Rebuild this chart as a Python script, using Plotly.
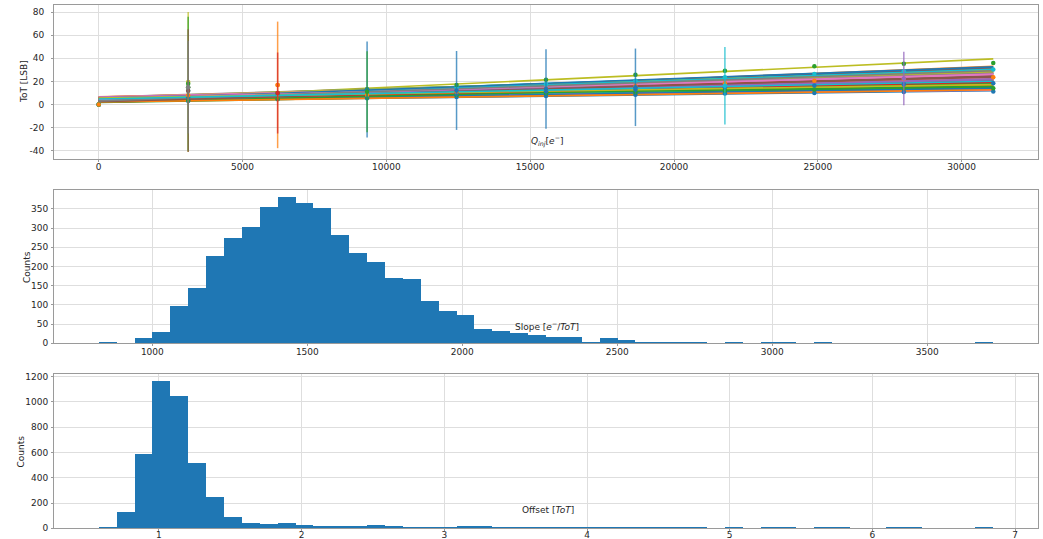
import numpy as np
import plotly.graph_objects as go

W, H = 1043, 539

TAB10 = ['#1f77b4', '#ff7f0e', '#2ca02c', '#d62728', '#9467bd',
         '#8c564b', '#e377c2', '#7f7f7f', '#bcbd22', '#17becf']

# ---------------- ToT calibration (top panel) ----------------
# injected charge steps [e-]
q_inj = [0, 3110, 6220, 9330, 12440, 15550, 18660, 21770, 24880, 27990, 31100]

# per-pixel linear fits: ToT at Q = 0 and at the last injection step
fit_tot_start = [2.5, 3.0, 1.8, 2.2, 4.0, 3.5, 2.8, 5.0, 3.2, 4.5,
                 2.0, 6.0, 3.8, 5.5, 2.6, 4.8, 3.4, 6.5, 4.2, 5.2,
                 3.6, 2.4, 4.6, 5.8, 3.1, 6.2, 2.9, 4.4, 5.6, 3.3,
                 4.9, 6.8, 2.1, 5.3, 3.9, 4.1, 5.1, 2.7, 6.0, 3.7,
                 3.5, 4.7, 2.3, 5.9, 3.0, 4.3, 6.4, 2.8, 5.0, 3.6,
                 4.0, 2.2, 5.4, 3.8, 6.1, 2.5, 4.5, 3.2, 5.7, 4.8]
fit_tot_end = [12.0, 13.5, 14.8, 16.0, 17.2, 18.5, 19.6, 20.5, 39.5, 21.8,
               22.6, 23.5, 24.4, 25.3, 26.0, 27.0, 28.2, 29.0, 30.0, 31.0,
               32.2, 33.0, 15.2, 17.8, 19.0, 21.0, 23.0, 25.0, 26.6, 28.8,
               13.0, 22.0, 18.0, 24.0, 27.6, 31.5, 12.5, 20.0, 29.5, 16.5,
               14.0, 16.8, 18.8, 20.8, 22.2, 23.8, 25.6, 27.2, 28.5, 30.5,
               32.6, 12.8, 15.8, 19.4, 21.4, 24.6, 26.3, 29.2, 17.4, 20.2]

# measured mean ToT of a few pixels at every injection step
tot_green = [0, 15.0, 10.0, 13.3, 17.0, 21.4, 25.8, 29.3, 33.1, 35.2, 36.0]
tot_cyan = [0, 12.0, 9.0, 11.0, 14.5, 17.5, 20.5, 23.5, 26.5, 28.8, 30.2]
tot_orange = [0, 8.0, 17.0, 8.5, 11.0, 13.5, 16.0, 18.5, 20.5, 22.0, 23.5]
tot_blue = [0, 6.0, 9.0, 7.5, 9.5, 11.5, 13.0, 15.0, 16.5, 17.5, 18.5]
tot_green2 = [0, 4.0, 5.0, 6.5, 8.0, 9.5, 10.5, 12.0, 13.0, 13.8, 14.1]
tot_blue2 = [0, 3.0, 4.5, 5.5, 6.5, 7.5, 8.5, 9.5, 10.0, 10.8, 11.2]

# points with large spread (mean +- std)
eb_q = [3110, 3110, 3110, 3110, 6220, 6220, 9330, 9330,
        12440, 15550, 18660, 21770, 27990]
eb_mean = [19.5, 18.0, 12.0, 15.0, 17.0, 10.0, 13.0, 11.0,
           12.2, 13.4, 14.9, 16.3, 22.6]
eb_std = [60.5, 58.0, 53.0, 40.0, 54.7, 35.0, 41.5, 35.0,
          34.1, 34.4, 33.5, 33.5, 23.1]
eb_color = [8, 2, 5, 7, 1, 3, 0, 2, 0, 0, 0, 9, 4]

# ---------------- slope histogram (middle panel) ----------------
slope_lo, slope_hi = 827.0, 3713.0
slope_counts = [1, 0, 14, 30, 96, 145, 228, 274, 302, 356,
                380, 366, 353, 281, 234, 211, 169, 167, 110, 84,
                73, 36, 33, 27, 22, 16, 16, 4, 14, 9,
                4, 2, 2, 1, 0, 2, 0, 3, 1, 0,
                1, 0, 0, 0, 0, 0, 0, 0, 0, 1]

# ---------------- offset histogram (bottom panel) ----------------
offset_lo, offset_hi = 0.578, 6.847
offset_counts = [5, 124, 585, 1160, 1042, 514, 243, 84, 42, 34,
                 40, 24, 13, 10, 10, 21, 13, 5, 4, 4,
                 12, 13, 6, 5, 2, 3, 1, 2, 2, 1,
                 2, 1, 1, 1, 0, 2, 0, 1, 1, 0,
                 1, 1, 0, 0, 1, 1, 0, 0, 0, 1]


def rgba(hex_color, a):
    h = hex_color.lstrip('#')
    r, g, b = int(h[0:2], 16), int(h[2:4], 16), int(h[4:6], 16)
    return f'rgba({r},{g},{b},{a})'


fig = go.Figure()

# fitted lines
q_end = q_inj[-1]
for i, (t0, t1) in enumerate(zip(fit_tot_start, fit_tot_end)):
    fig.add_trace(go.Scatter(
        x=[q_inj[0], q_end], y=[t0, t1], mode='lines',
        line=dict(color=TAB10[i % 10], width=1.6),
        xaxis='x', yaxis='y', showlegend=False, hoverinfo='skip'))

# measured points
for series, ci in [(tot_blue2, 0), (tot_green2, 2), (tot_blue, 0),
                   (tot_cyan, 9), (tot_green, 2), (tot_orange, 1)]:
    fig.add_trace(go.Scatter(
        x=q_inj, y=series, mode='markers',
        marker=dict(color=TAB10[ci], size=4.5),
        xaxis='x', yaxis='y', showlegend=False))

# points with error bars
for q, m, s, ci in zip(eb_q, eb_mean, eb_std, eb_color):
    fig.add_trace(go.Scatter(
        x=[q], y=[m], mode='markers',
        marker=dict(color=TAB10[ci], size=4.5),
        error_y=dict(type='data', array=[s], color=rgba(TAB10[ci], 0.75),
                     thickness=1.5, width=0),
        xaxis='x', yaxis='y', showlegend=False))


# histograms
def add_hist(lo, hi, counts, xa, ya):
    edges = np.linspace(lo, hi, len(counts) + 1)
    centers = 0.5 * (edges[:-1] + edges[1:])
    fig.add_trace(go.Bar(
        x=centers, y=counts, width=(hi - lo) / len(counts),
        marker=dict(color='#1f77b4', line=dict(width=0)),
        xaxis=xa, yaxis=ya, showlegend=False))


add_hist(slope_lo, slope_hi, slope_counts, 'x2', 'y2')
add_hist(offset_lo, offset_hi, offset_counts, 'x3', 'y3')

# axes ------------------------------------------------------------
TXT = '#262626'
GRID = '#dedede'
SPINE = '#9a9a9a'
FONT = 'DejaVu Sans'


def padded(lo, hi, frac=0.05):
    d = (hi - lo) * frac
    return [lo - d, hi + d]


def ax(domain, anchor, rng, tickvals, standoff=2):
    return dict(domain=domain, anchor=anchor, range=rng, tickvals=tickvals,
                ticktext=[str(v) for v in tickvals],
                showgrid=True, gridcolor=GRID, gridwidth=1,
                showline=True, linecolor=SPINE, linewidth=1, mirror=True,
                ticks='outside', ticklen=2, tickcolor=SPINE, zeroline=False,
                ticklabelstandoff=standoff, automargin=False,
                tickfont=dict(family=FONT, size=9, color=TXT))


xd = [54 / W, 1038 / W]
yd_top = [1 - 159 / H, 1 - 5 / H]
yd_mid = [1 - 343.3 / H, 1 - 190 / H]
yd_bot = [1 - 528.3 / H, 1 - 374.3 / H]

eb_lo = min(m - s for m, s in zip(eb_mean, eb_std))
eb_hi = max(m + s for m, s in zip(eb_mean, eb_std))

layout = dict(
    width=W, height=H,
    margin=dict(l=0, r=0, t=0, b=0),
    paper_bgcolor='white', plot_bgcolor='white',
    bargap=0, showlegend=False,
    font=dict(family=FONT, size=9, color=TXT),
    xaxis=ax(xd, 'y', padded(0, q_end), list(range(0, 30001, 5000)), standoff=-3),
    yaxis=ax(yd_top, 'x', padded(eb_lo, eb_hi), list(range(-40, 81, 20)), standoff=5),
    xaxis2=ax(xd, 'y2', padded(slope_lo, slope_hi), list(range(1000, 3501, 500)), standoff=-2),
    yaxis2=ax(yd_mid, 'x2', [0, max(slope_counts) * 1.05], list(range(0, 351, 50)), standoff=1),
    xaxis3=ax(xd, 'y3', padded(offset_lo, offset_hi), list(range(1, 8)), standoff=-4),
    yaxis3=ax(yd_bot, 'x3', [0, max(offset_counts) * 1.05], list(range(0, 1201, 200)), standoff=1),
)


def note(text, px, py, angle=0):
    return dict(text=text, x=px / W, y=1 - py / H, xref='paper', yref='paper',
                showarrow=False, textangle=angle, xanchor='center', yanchor='middle',
                font=dict(family=FONT, size=9, color=TXT))


layout['annotations'] = [
    note('<i>Q</i><sub><i>inj</i></sub>[<i>e</i><sup>\u2212</sup>]', 547, 141),
    note('Slope [<i>e</i><sup>\u2212</sup>/<i>ToT</i>]', 547, 326),
    note('Offset [<i>ToT</i>]', 547.5, 510),
    note('ToT [LSB]', 24, 82, -90),
    note('Counts', 27, 267, -90),
    note('Counts', 20.5, 452, -90),
]

fig.update_layout(**layout)
fig.write_html('out.html')
